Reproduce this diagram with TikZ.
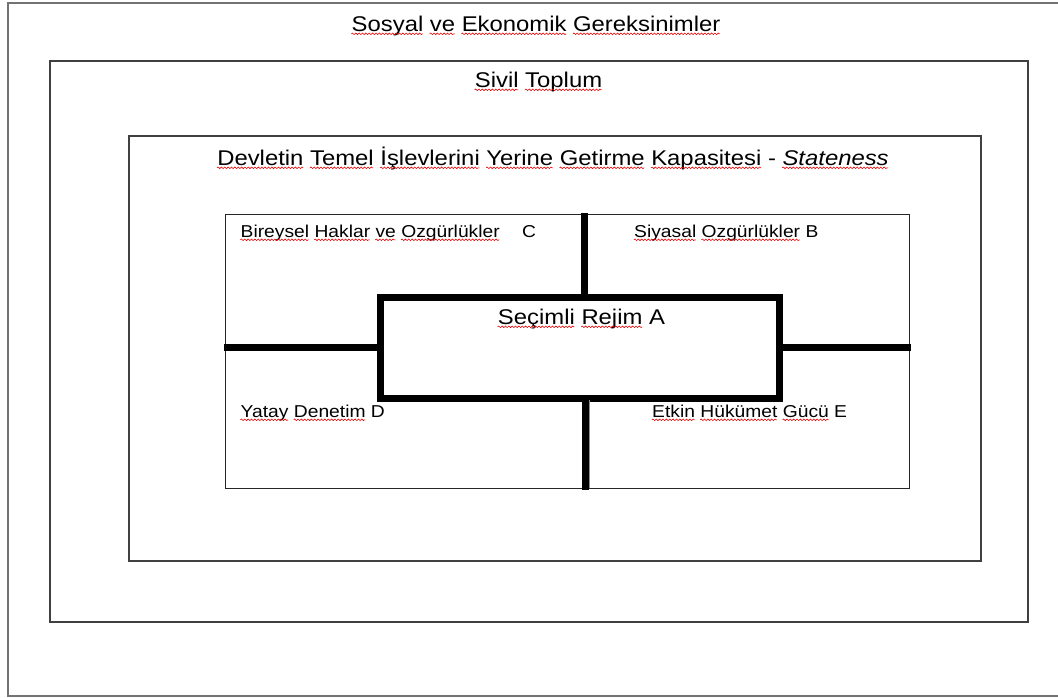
\documentclass[tikz,border=0pt]{standalone}
\usepackage{fontspec}
\setmainfont{Liberation Sans}
\usetikzlibrary{positioning,decorations.pathmorphing}

% spell-check wave under a word, as in the screenshot
\newsavebox{\wbox}
\newcommand{\sq}[1]{\sbox{\wbox}{#1}\usebox{\wbox}\llap{\tikz[baseline=0pt]\draw[wave] (0pt,-2.8pt) -- (\wd\wbox,-2.8pt);}}
\newcommand{\wide}[1]{\scalebox{1.12}[1]{#1}}

\tikzset{
  wave/.style = {red!90!black, line width=0.55pt, decorate, decoration={snake, amplitude=0.8pt, segment length=3pt}},
  big/.style = {inner sep=0, anchor=base, font=\fontsize{21.3}{25}\selectfont},
  small/.style = {inner sep=0, anchor=base west, font=\fontsize{17.2}{20}\selectfont},
  frame/.style = {draw=black!75, line width=1.6pt},
  bar/.style = {line width=7pt}
}

\begin{document}
\begin{tikzpicture}[x=1pt, y=-1pt]
	\useasboundingbox (0,0) rectangle (1058,697);
	% outer frame, cut at the right
	\draw[black!55, line width=1.2pt] (1060,3) -- (8,3) -- (8,696) -- (1060,696);
	\draw[frame] (50,61) rectangle (1028,622);
	\draw[frame] (129,136) rectangle (981,561);
	\node[draw=black!85, line width=1pt, inner sep=0, minimum width=684pt, minimum height=274pt] (quad) at (567,351) {};
	\node[draw, line width=7pt, inner sep=0, minimum width=399pt, minimum height=101pt] (A) at (579.5,347.5) {};

	\node[big] (t1) at (536,31) {\wide{\sq{Sosyal} \sq{ve} \sq{Ekonomik} \sq{Gereksinimler}}};
	\node[big] (t2) at (538.5,87) {\wide{\sq{Sivil} \sq{Toplum}}};
	\node[big] (t3) at (553,165) {\wide{\sq{Devletin} \sq{Temel} \sq{İşlevlerini} \sq{Yerine} \sq{Getirme} \sq{Kapasitesi} - \sq{\itshape Stateness}}};
	\node[big] (tA) at (581.5,324) {\wide{\sq{Seçimli} \sq{Rejim} A}};
	\node[small] (tC) at (240.5,237) {\wide{\sq{Bireysel} \sq{Haklar} \sq{ve} \sq{Ozgürlükler}\hspace{20pt}C}};
	\node[small] (tB) at (634,237) {\wide{\sq{Siyasal} \sq{Ozgürlükler} B}};
	\node[small] (tD) at (240.5,417) {\wide{\sq{Yatay} \sq{Denetim} D}};
	\node[small] (tE) at (652,417) {\wide{\sq{Etkin} \sq{Hükümet} \sq{Gücü} E}};

	\coordinate (n) at (584,213);
	\coordinate (s) at (585,490);
	\coordinate (w) at (224,347.5);
	\coordinate (e) at (910.5,347.5);
	\draw[bar] (n) -- (n |- A.north);
	\draw[bar] (s |- A.south) -- (s);
	\draw[bar] (w) -- (A.west);
	\draw[bar] (A.east) -- (e);
	\draw[blue!50, line width=0.8pt] (589.5,400) -- (589.5,488);
\end{tikzpicture}
\end{document}
